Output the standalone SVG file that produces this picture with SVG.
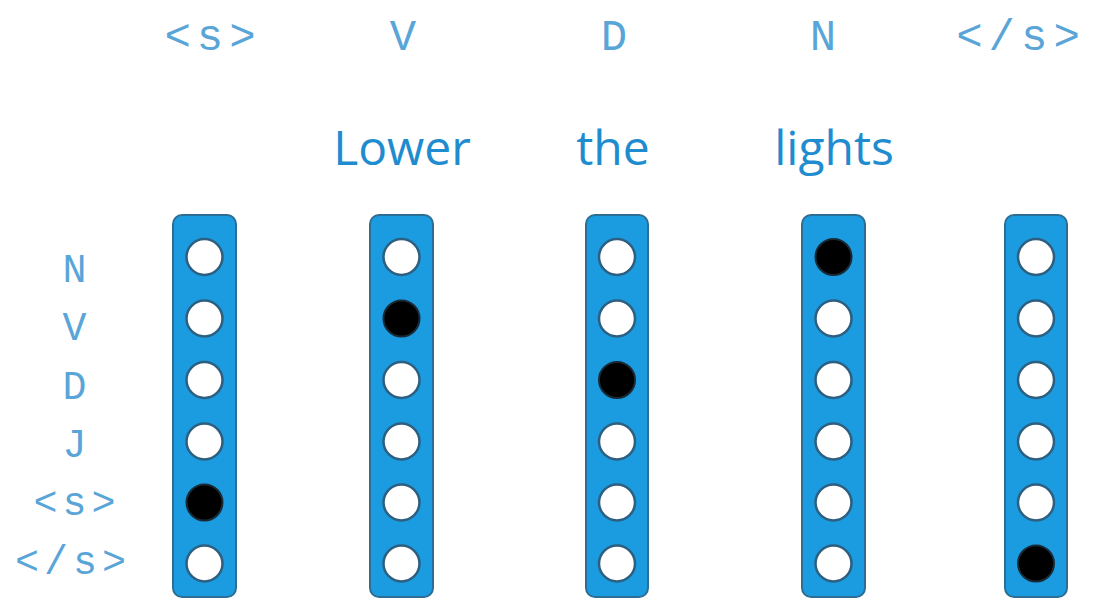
<svg xmlns="http://www.w3.org/2000/svg" width="1112" height="600" viewBox="0 0 1112 600">
<style>
.tag{font-family:"Courier New","Liberation Mono",monospace;font-size:44px;fill:#5aa5d8;text-anchor:middle;letter-spacing:6px}
.row{font-family:"Courier New","Liberation Mono",monospace;font-size:40px;fill:#5aa5d8;text-anchor:middle;letter-spacing:5px}
.word{font-family:"Open Sans","Noto Sans",sans-serif;font-size:48px;fill:#1f8ccf;text-anchor:middle}
.col{fill:#1b9be0;stroke:#2c6e94;stroke-width:2}
.off{fill:#ffffff;stroke:#2d5f80;stroke-width:2.5}
.on{fill:#000000;stroke:#1a2a35;stroke-width:2}
</style>
<rect width="1112" height="600" fill="#ffffff"/>
<g id="tags">
<text class="tag" x="213" y="50">&lt;s&gt;</text>
<text class="tag" x="406" y="50">V</text>
<text class="tag" x="617" y="50">D</text>
<text class="tag" x="826" y="50">N</text>
<text class="tag" x="1021" y="50">&lt;/s&gt;</text>
</g>
<g id="words">
<text class="word" x="402" y="165">Lower</text>
<text class="word" x="613" y="165">the</text>
<text class="word" x="834" y="165">lights</text>
</g>
<g id="rowlabels">
<text class="row" x="77" y="282">N</text>
<text class="row" x="77" y="340">V</text>
<text class="row" x="77" y="399">D</text>
<text class="row" x="77" y="457">J</text>
<text class="row" x="77" y="515">&lt;s&gt;</text>
<text class="row" x="73" y="574">&lt;/s&gt;</text>
</g>
<g id="col-s">
<rect class="col" x="173" y="215" width="63" height="382" rx="9"/>
<circle class="off" cx="204.5" cy="257" r="18"/>
<circle class="off" cx="204.5" cy="318.5" r="18"/>
<circle class="off" cx="204.5" cy="380" r="18"/>
<circle class="off" cx="204.5" cy="441.5" r="18"/>
<circle class="on" cx="204.5" cy="502.5" r="18"/>
<circle class="off" cx="204.5" cy="563.5" r="18"/>
</g>
<g id="col-lower">
<rect class="col" x="370" y="215" width="63" height="382" rx="9"/>
<circle class="off" cx="401.5" cy="257" r="18"/>
<circle class="on" cx="401.5" cy="318.5" r="18"/>
<circle class="off" cx="401.5" cy="380" r="18"/>
<circle class="off" cx="401.5" cy="441.5" r="18"/>
<circle class="off" cx="401.5" cy="502.5" r="18"/>
<circle class="off" cx="401.5" cy="563.5" r="18"/>
</g>
<g id="col-the">
<rect class="col" x="586" y="215" width="62" height="382" rx="9"/>
<circle class="off" cx="617" cy="257" r="18"/>
<circle class="off" cx="617" cy="318.5" r="18"/>
<circle class="on" cx="617" cy="380" r="18"/>
<circle class="off" cx="617" cy="441.5" r="18"/>
<circle class="off" cx="617" cy="502.5" r="18"/>
<circle class="off" cx="617" cy="563.5" r="18"/>
</g>
<g id="col-lights">
<rect class="col" x="802" y="215" width="63" height="382" rx="9"/>
<circle class="on" cx="833.5" cy="257" r="18"/>
<circle class="off" cx="833.5" cy="318.5" r="18"/>
<circle class="off" cx="833.5" cy="380" r="18"/>
<circle class="off" cx="833.5" cy="441.5" r="18"/>
<circle class="off" cx="833.5" cy="502.5" r="18"/>
<circle class="off" cx="833.5" cy="563.5" r="18"/>
</g>
<g id="col-end">
<rect class="col" x="1005" y="215" width="62" height="382" rx="9"/>
<circle class="off" cx="1036" cy="257" r="18"/>
<circle class="off" cx="1036" cy="318.5" r="18"/>
<circle class="off" cx="1036" cy="380" r="18"/>
<circle class="off" cx="1036" cy="441.5" r="18"/>
<circle class="off" cx="1036" cy="502.5" r="18"/>
<circle class="on" cx="1036" cy="563.5" r="18"/>
</g>
<g id="connectors"></g>
</svg>
